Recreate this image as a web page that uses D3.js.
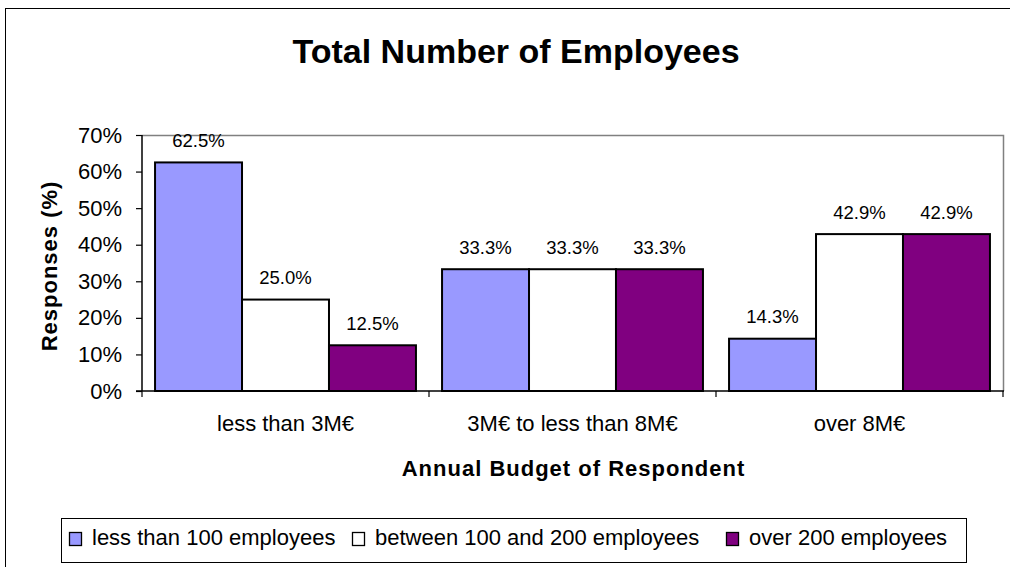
<!DOCTYPE html>
<html>
<head>
<meta charset="utf-8">
<script src="https://cdn.jsdelivr.net/npm/d3@7"></script>
<style>
  html, body { margin: 0; padding: 0; background: #fff; }
  svg { display: block; font-family: Arial, "Liberation Sans", sans-serif; }
</style>
</head>
<body>
<svg id="chart" width="1010" height="567"></svg>
<script>
// Budget groups (x categories) and employee-count series
const categories = ["less than 3M€", "3M€ to less than 8M€", "over 8M€"];
const seriesNames = ["less than 100 employees", "between 100 and 200 employees", "over 200 employees"];
const seriesColors = ["#9999FF", "#FFFFFF", "#800080"];
const lessThan100 = [62.5, 33.3, 14.3];
const between100And200 = [25.0, 33.3, 42.9];
const over200 = [12.5, 33.3, 42.9];
const yTicks = [0, 10, 20, 30, 40, 50, 60, 70];

const seriesValues = [lessThan100, between100And200, over200];

const svg = d3.select("#chart");
const plot = { left: 142, right: 1003, top: 135, bottom: 391 };

// Outer chart frame
svg.append("rect")
  .attr("x", 5.5).attr("y", 8.5)
  .attr("width", 1020).attr("height", 580)
  .attr("fill", "#fff").attr("stroke", "#000").attr("stroke-width", 1);

// Title
svg.append("text")
  .attr("x", 516).attr("y", 63)
  .attr("text-anchor", "middle")
  .attr("font-size", 34).attr("font-weight", "bold")
  .text("Total Number of Employees");

const x0 = d3.scaleBand().domain(categories).range([plot.left, plot.right]).padding(0);
const x1 = d3.scaleBand().domain(d3.range(seriesNames.length))
  .range([0, x0.bandwidth()]).paddingInner(0).paddingOuter(0.15);
const y = d3.scaleLinear().domain([0, 70]).range([plot.bottom, plot.top]);

// Plot area border (top and right)
svg.append("path")
  .attr("d", `M${plot.left},${plot.top + 0.5}H${plot.right + 0.5}V${plot.bottom}`)
  .attr("fill", "none").attr("stroke", "#808080").attr("stroke-width", 1.5);

// Bars
const groups = svg.append("g").selectAll("g")
  .data(categories)
  .join("g")
  .attr("transform", d => `translate(${x0(d)},0)`);

groups.selectAll("rect")
  .data((c, ci) => seriesValues.map((vals, si) => ({ si, v: vals[ci] })))
  .join("rect")
  .attr("x", d => x1(d.si))
  .attr("y", d => y(d.v))
  .attr("width", x1.bandwidth())
  .attr("height", d => y(0) - y(d.v))
  .attr("fill", d => seriesColors[d.si])
  .attr("stroke", "#000").attr("stroke-width", 2);

groups.selectAll("text")
  .data((c, ci) => seriesValues.map((vals, si) => ({ si, v: vals[ci] })))
  .join("text")
  .attr("x", d => x1(d.si) + x1.bandwidth() / 2)
  .attr("y", d => y(d.v) - 15.5)
  .attr("text-anchor", "middle")
  .attr("font-size", 18.5)
  .text(d => d3.format(".1f")(d.v) + "%");

// Y axis
const yAxis = svg.append("g")
  .attr("transform", `translate(${plot.left},0)`)
  .call(d3.axisLeft(y).tickValues(yTicks).tickFormat(d => d + "%").tickSize(6).tickPadding(14));
yAxis.select(".domain").attr("stroke", "#000").attr("stroke-width", 1.5).attr("d", `M0,${plot.top}V${plot.bottom}`);
yAxis.selectAll(".tick line").attr("stroke", "#000").attr("stroke-width", 1.2);
yAxis.selectAll(".tick text").attr("font-size", 22).attr("font-family", "Arial, 'Liberation Sans', sans-serif").attr("fill", "#000");

// X axis with boundary ticks between categories
const xAxisG = svg.append("g");
xAxisG.append("line")
  .attr("x1", plot.left - 6).attr("x2", plot.right + 1)
  .attr("y1", plot.bottom).attr("y2", plot.bottom)
  .attr("stroke", "#000").attr("stroke-width", 1.5);
const boundaries = categories.map(c => x0(c)).concat([plot.right]);
xAxisG.selectAll("line.tk")
  .data(boundaries)
  .join("line").attr("class", "tk")
  .attr("x1", d => d).attr("x2", d => d)
  .attr("y1", plot.bottom).attr("y2", plot.bottom + 6)
  .attr("stroke", "#000").attr("stroke-width", 1.2);
xAxisG.selectAll("text")
  .data(categories)
  .join("text")
  .attr("x", d => x0(d) + x0.bandwidth() / 2)
  .attr("y", 431)
  .attr("text-anchor", "middle")
  .attr("font-size", 22)
  .text(d => d);

// Axis titles
svg.append("text")
  .attr("x", (plot.left + plot.right) / 2 + 1).attr("y", 476)
  .attr("text-anchor", "middle")
  .attr("font-size", 22).attr("font-weight", "bold")
  .attr("letter-spacing", 1)
  .text("Annual Budget of Respondent");

svg.append("text")
  .attr("transform", `translate(57,${266}) rotate(-90)`)
  .attr("text-anchor", "middle")
  .attr("font-size", 22).attr("font-weight", "bold")
  .attr("letter-spacing", 1)
  .text("Responses (%)");

// Legend
const legend = svg.append("g");
legend.append("rect")
  .attr("x", 61.5).attr("y", 518.5).attr("width", 905).attr("height", 44)
  .attr("fill", "#fff").attr("stroke", "#000").attr("stroke-width", 1);
const legendX = [69, 352, 726];
const items = legend.selectAll("g.item")
  .data(seriesNames)
  .join("g").attr("class", "item")
  .attr("transform", (d, i) => `translate(${legendX[i]},0)`);
items.append("rect")
  .attr("x", 0.5).attr("y", 532.5).attr("width", 12).attr("height", 13)
  .attr("fill", (d, i) => seriesColors[i])
  .attr("stroke", "#000").attr("stroke-width", 1.3);
items.append("text")
  .attr("x", 23).attr("y", 545)
  .attr("font-size", 22)
  .text(d => d);
</script>
</body>
</html>
